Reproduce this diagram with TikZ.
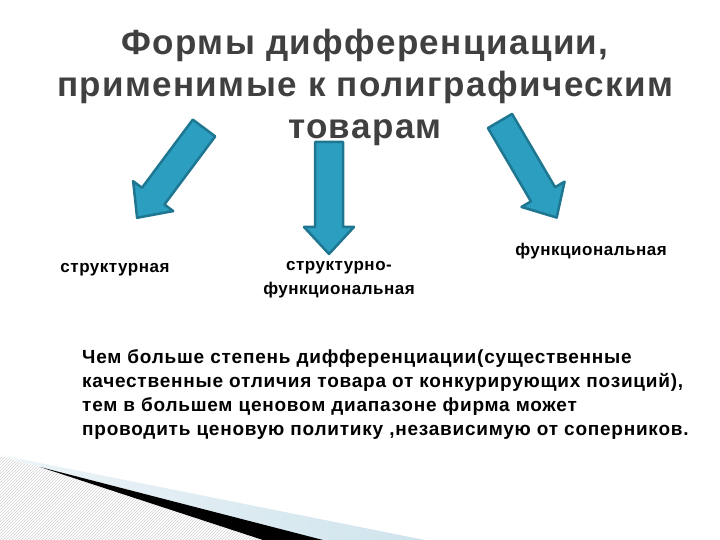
\documentclass[tikz,border=0pt]{standalone}
\usepackage{fontspec}
\setmainfont{Liberation Sans}
\usetikzlibrary{patterns}
\definecolor{arrowfill}{RGB}{44,158,192}
\definecolor{arrowline}{RGB}{30,118,145}
\definecolor{titlegray}{RGB}{64,64,64}
\definecolor{swooshblue}{RGB}{208,228,237}
\newfontfamily\titlefont[LetterSpace=4]{Liberation Sans}
\newfontfamily\formfont[LetterSpace=3]{Liberation Sans}
\tikzset{
  bigarrow/.pic={
    \draw[arrowline, line width=2.5pt, line join=round, fill=arrowfill]
      (0,-14) -- (85,-14) -- (85,-25) -- (112,0) -- (85,25) -- (85,14) -- (0,14) -- cycle;
  },
  title/.style={align=center, text=titlegray, font=\titlefont\bfseries\fontsize{35}{42}\selectfont},
  label/.style={align=center, inner sep=0pt, font=\formfont\bfseries\fontsize{17}{24}\selectfont},
  para/.style={align=left, anchor=west, inner sep=0pt, font=\titlefont\bfseries\fontsize{19}{24}\selectfont}
}
\begin{document}
\begin{tikzpicture}[x=1pt, y=-1pt]
  \useasboundingbox (0,0) rectangle (720,540);
  % bottom left decoration
  \fill[pattern=north east lines, pattern color=gray!35]
    (0,456) -- (40,467) -- (263,540) -- (0,540) -- cycle;
  \shade[left color=swooshblue!40, right color=swooshblue]
    (0,455) -- (425,540) -- (323,540) -- (40,467) -- cycle;
  \fill[black] (40,467) -- (323,540) -- (263,540) -- cycle;
  % title
  \node[title] (title) at (365,87)
    {Формы дифференциации,\\применимые к полиграфическим\\товарам};
  % arrows
  \pic (arrL) at (204,128) [rotate=-126.7] {bigarrow};
  \pic (arrM) at (329,142) [rotate=-90] {bigarrow};
  \pic (arrR) at (500,121) [rotate=-59.6] {bigarrow};
  % forms
  \node[label] (struct) at (115,270) {структурная};
  \node[label] (structfunc) at (339,280) {структурно-\\функциональная};
  \node[label] (func) at (591,251) {функциональная};
  % remark
  \node[para] (remark) at (82,395)
    {Чем больше степень дифференциации(существенные\\
     качественные отличия товара от конкурирующих позиций),\\
     тем в большем ценовом диапазоне фирма может\\
     проводить ценовую политику ,независимую от соперников.};
\end{tikzpicture}
\end{document}
